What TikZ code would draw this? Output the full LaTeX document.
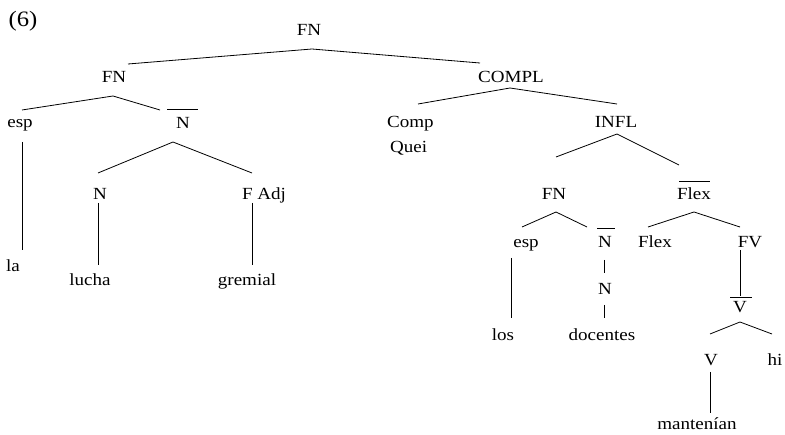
\documentclass[tikz,border=0pt]{standalone}
\usepackage{fontspec}
\setmainfont[FakeStretch=1.12]{Liberation Serif}
\begin{document}
\begin{tikzpicture}[x=1pt,y=-1pt,
  lab/.style={anchor=base,inner sep=0pt,font=\fontsize{17}{19}\selectfont},
  edge/.style={line width=0.8pt}]
\useasboundingbox (0,0) rectangle (785,435);
% labels
\node[lab,font=\fontsize{22}{24}\selectfont] (ex) at (23,27) {(6)};
\node[lab] (fn0) at (309,36) {FN};
\node[lab] (fn1) at (114,83) {FN};
\node[lab] (esp1) at (20,128) {esp};
\node[lab] (nb1) at (183,129) {N};
\node[lab] (n1) at (100,200) {N};
\node[lab] (fadj) at (264,200) {F Adj};
\node[lab] (la) at (13,272) {la};
\node[lab] (lucha) at (90,286) {lucha};
\node[lab] (grem) at (247,286) {gremial};
\node[lab] (compl) at (511,83) {COMPL};
\node[lab,anchor=base west] (comp) at (387,128) {Comp};
\node[lab,anchor=base west] (quei) at (390,153) {Quei};
\node[lab] (infl) at (616,128) {INFL};
\node[lab] (fn2) at (554,200) {FN};
\node[lab] (flb) at (694,200) {Flex};
\node[lab] (esp2) at (526,248) {esp};
\node[lab] (nb2) at (605,248) {N};
\node[lab] (flex) at (655,248) {Flex};
\node[lab] (fv) at (750,248) {FV};
\node[lab] (n2) at (605,295) {N};
\node[lab] (los) at (503,341) {los};
\node[lab] (doc) at (602,341) {docentes};
\node[lab] (vb) at (740,313) {V};
\node[lab] (v) at (711,366) {V};
\node[lab] (hi) at (775,366) {hi};
\node[lab] (mant) at (697,430) {mantenían};
% branch points
\coordinate (a0) at (312,49); \coordinate (l0) at (128,64); \coordinate (r0) at (480,63);
\coordinate (a1) at (113,96); \coordinate (l1) at (22,110); \coordinate (r1) at (160,110);
\coordinate (a2) at (173,142); \coordinate (l2) at (98,173); \coordinate (r2) at (252,173);
\coordinate (a3) at (510,88); \coordinate (l3) at (418,104); \coordinate (r3) at (617,104);
\coordinate (a4) at (617,134); \coordinate (l4) at (556,157); \coordinate (r4) at (679,165);
\coordinate (a5) at (556,212); \coordinate (l5) at (522,227); \coordinate (r5) at (587,227);
\coordinate (a6) at (694,212); \coordinate (l6) at (648,227); \coordinate (r6) at (740,227);
\coordinate (a7) at (740,322); \coordinate (l7) at (710,334); \coordinate (r7) at (772,334);
\draw[edge] (l0) -- (a0) -- (r0);
\draw[edge] (l1) -- (a1) -- (r1);
\draw[edge] (l2) -- (a2) -- (r2);
\draw[edge] (l3) -- (a3) -- (r3);
\draw[edge] (l4) -- (a4) -- (r4);
\draw[edge] (l5) -- (a5) -- (r5);
\draw[edge] (l6) -- (a6) -- (r6);
\draw[edge] (l7) -- (a7) -- (r7);
% vertical edges
\coordinate (e1t) at (22,142); \coordinate (e1b) at (22,250);
\coordinate (e2t) at (98,203); \coordinate (e2b) at (98,265);
\coordinate (e3t) at (252,203); \coordinate (e3b) at (252,265);
\coordinate (e4t) at (511,258); \coordinate (e4b) at (511,318);
\coordinate (e5t) at (604,260); \coordinate (e5b) at (604,273);
\coordinate (e6t) at (604,305); \coordinate (e6b) at (604,318);
\coordinate (e7t) at (740,250); \coordinate (e7b) at (740,296);
\coordinate (e8t) at (710,372); \coordinate (e8b) at (710,413);
\draw[edge] (e1t) -- (e1b);
\draw[edge] (e2t) -- (e2b);
\draw[edge] (e3t) -- (e3b);
\draw[edge] (e4t) -- (e4b);
\draw[edge] (e5t) -- (e5b);
\draw[edge] (e6t) -- (e6b);
\draw[edge] (e7t) -- (e7b);
\draw[edge] (e8t) -- (e8b);
% bars
\coordinate (b1l) at (167,109); \coordinate (b1r) at (198,109);
\coordinate (b2l) at (679,181); \coordinate (b2r) at (710,181);
\coordinate (b3l) at (597,228); \coordinate (b3r) at (615,228);
\coordinate (b4l) at (730,297); \coordinate (b4r) at (752,297);
\draw[edge] (b1l) -- (b1r);
\draw[edge] (b2l) -- (b2r);
\draw[edge] (b3l) -- (b3r);
\draw[edge] (b4l) -- (b4r);
\end{tikzpicture}
\end{document}
